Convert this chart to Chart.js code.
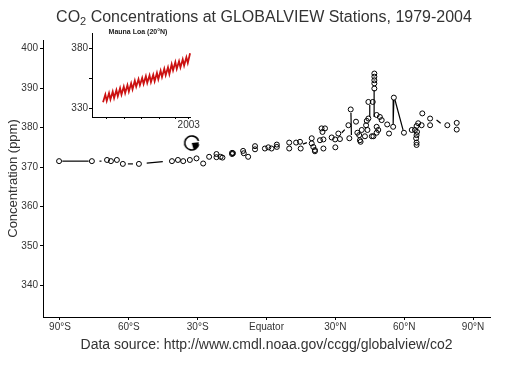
<!DOCTYPE html>
<html>
<head>
<meta charset="utf-8">
<script src="https://cdn.jsdelivr.net/npm/chart.js@4.4.1/dist/chart.umd.min.js"></script>
<style>
  html, body { margin: 0; padding: 0; background: #fff; }
  #wrap { position: relative; width: 512px; height: 366px; }
  #main { position: absolute; left: 0; top: 0; }
  #inset { position: absolute; left: 50px; top: 24px; }
</style>
</head>
<body>
<div id="wrap">
  <canvas id="main" width="512" height="366"></canvas>
  <canvas id="inset" width="150" height="108"></canvas>
</div>
<script>
// station values (latitude in degrees, negative = south; CO2 in ppm)
const stationLat = [
  -90.4, -76.1, -69.5, -67.8, -65.2, -62.6, -55.6, -41.2, -38.6, -36.3,
  -33.4, -30.5, -27.6, -25.0, -21.8, -21.8, -20.0, -19.2, -15.0, -15.0,
  -14.6, -10.2, -9.9, -8.0, -5.0, -5.0, -0.7, 0.8, 2.2, 4.5,
  4.5, 9.9, 9.9, 12.9, 14.6, 14.9, 19.7, 19.7, 20.4, 21.1,
  21.1, 24.0, 24.4, 25.5, 23.3, 24.8, 24.8, 28.4, 29.9, 30.0,
  31.3, 32.0, 36.1, 35.7, 36.7, 39.0, 39.6, 40.4, 40.7, 41.0,
  41.5, 42.9, 43.4, 43.7, 44.4, 44.0, 45.9, 44.4, 46.3, 47.0,
  47.0, 47.0, 47.0, 47.0, 48.0, 49.4, 50.2, 48.0, 48.7, 48.0,
  46.6, 52.6, 53.4, 55.2, 55.5, 59.9, 63.3, 64.7, 65.4, 66.1,
  67.6, 65.6, 65.4, 65.2, 65.4, 65.4, 67.9, 71.3, 71.3, 78.8,
  82.9, 82.9
];
const stationPpm = [
  371.5, 371.5, 371.8, 371.5, 371.8, 370.8, 370.8, 371.5, 371.8, 371.5,
  371.8, 372.2, 370.9, 372.6, 373.3, 372.5, 372.6, 372.4, 373.6, 373.3,
  373.5, 374.1, 373.5, 372.6, 375.3, 374.5, 374.7, 375.0, 374.7, 375.1,
  375.7, 376.2, 374.7, 376.2, 376.4, 374.7, 377.3, 376.0, 375.1, 374.3,
  374.0, 379.8, 378.9, 379.8, 376.8, 377.0, 374.7, 377.5, 377.0, 375.0,
  378.5, 377.1, 377.3, 380.6, 384.6, 381.5, 378.7, 378.1, 376.8, 376.4,
  379.4, 377.8, 380.6, 381.7, 382.3, 379.4, 377.8, 386.5, 386.5, 393.7,
  392.9, 392.0, 391.2, 389.9, 383.2, 382.7, 381.9, 380.2, 379.4, 378.7,
  377.8, 380.8, 378.5, 380.2, 387.6, 378.7, 379.4, 379.4, 380.4, 381.1,
  380.6, 378.9, 378.1, 377.3, 376.2, 375.6, 383.6, 382.3, 380.6, 380.6,
  381.2, 379.5
];
// connecting strokes: [lat1, ppm1, lat2, ppm2]
const segments = [
  [-89.0, 371.5, -77.5, 371.5],
  [-72.8, 371.5, -71.9, 371.5],
  [-60.4, 370.8, -58.2, 370.8],
  [-52.2, 371.0, -45.2, 371.4],
  [15.9, 375.8, 17.6, 376.2],
  [32.8, 378.7, 34.1, 379.5],
  [36.8, 383.7, 37.0, 378.1],
  [45.0, 385.7, 45.0, 382.7],
  [46.9, 389.5, 46.9, 382.7],
  [55.5, 387.0, 55.2, 380.9],
  [56.0, 387.0, 59.5, 379.4],
  [74.1, 381.9, 75.9, 381.1]
];
const markerLat = [-32.6];
const markerPpm = [376.1];

const xTickValues = [-90, -60, -30, 0, 30, 60, 90];
const xTickLabels = ["90°S", "60°S", "30°S", "Equator", "30°N", "60°N", "90°N"];
const yTickValues = [340, 350, 360, 370, 380, 390, 400];

// Mauna Loa inset
const mloYear = [
  1979.75, 1980.37, 1980.75, 1981.37, 1981.75, 1982.37, 1982.75, 1983.37, 1983.75,
  1984.37, 1984.75, 1985.37, 1985.75, 1986.37, 1986.75, 1987.37, 1987.75,
  1988.37, 1988.75, 1989.37, 1989.75, 1990.37, 1990.75, 1991.37, 1991.75,
  1992.37, 1992.75, 1993.37, 1993.75, 1994.37, 1994.75, 1995.37, 1995.75,
  1996.37, 1996.75, 1997.37, 1997.75, 1998.37, 1998.75, 1999.37, 1999.75,
  2000.37, 2000.75, 2001.37, 2001.75, 2002.37, 2002.75, 2003.37
];
const mloPpm = [
  334.8, 341.2, 335.9, 342.4, 337.1, 343.6, 338.3, 345.0, 339.9,
  346.5, 341.2, 347.8, 342.5, 349.1, 343.8, 350.6, 345.6,
  352.7, 347.8, 354.0, 349.0, 355.1, 350.1, 356.5, 351.0,
  357.2, 351.6, 357.7, 352.3, 359.2, 354.0, 361.1, 355.8,
  362.7, 357.4, 363.8, 358.3, 366.5, 361.4, 368.2, 362.6,
  369.0, 363.8, 370.5, 365.4, 372.3, 367.6, 375.6
];
const insetXTicks = [1980.6, 1985.7, 1990.3, 1995.0, 1999.4, 2003];
const insetXLabels = ["", "", "", "", "", "2003"];
const insetYTicks = [330, 355, 380];
const insetYLabels = ["330", "", "380"];

const titleMain = "CO";
const titleSub = "2";
const titleRest = " Concentrations at GLOBALVIEW Stations, 1979-2004";
const insetTitle = "Mauna Loa (20°N)";

const ink = "#000";
const textColor = "#333";
const family = "'Liberation Sans', Arial, Helvetica, sans-serif";

function makeClockMarker() {
  const c = document.createElement("canvas");
  c.width = 18;
  c.height = 18;
  const g = c.getContext("2d");
  g.strokeStyle = ink;
  g.lineWidth = 1.6;
  g.beginPath();
  g.arc(9, 9, 7, 0.2, Math.PI * 2 - 0.3);
  g.stroke();
  g.fillStyle = ink;
  g.beginPath();
  g.moveTo(9, 9);
  g.arc(9, 9, 7, -0.1, 1.3);
  g.closePath();
  g.fill();
  return c;
}

function toPoints(xs, ys) {
  return xs.map((x, i) => ({ x: x, y: ys[i] }));
}

const titlePlugin = {
  id: "co2title",
  afterDraw(chart) {
    const ctx = chart.ctx;
    const big = "16px " + family;
    const small = "11px " + family;
    ctx.save();
    ctx.fillStyle = textColor;
    ctx.textBaseline = "alphabetic";
    ctx.font = big;
    const w1 = ctx.measureText(titleMain).width;
    const w3 = ctx.measureText(titleRest).width;
    ctx.font = small;
    const w2 = ctx.measureText(titleSub).width;
    let x = 264 - (w1 + w2 + w3) / 2;
    const y = 22;
    ctx.font = big;
    ctx.fillText(titleMain, x, y);
    x += w1;
    ctx.font = small;
    ctx.fillText(titleSub, x, y + 3);
    x += w2;
    ctx.font = big;
    ctx.fillText(titleRest, x, y);
    ctx.restore();
  }
};

const segmentSets = segments.map((s) => ({
  data: [{ x: s[0], y: s[1] }, { x: s[2], y: s[3] }],
  showLine: true,
  borderColor: ink,
  borderWidth: 1.2,
  pointRadius: 0
}));

new Chart(document.getElementById("main"), {
  type: "scatter",
  data: {
    datasets: [
      ...segmentSets,
      {
        data: toPoints(stationLat, stationPpm),
        pointStyle: "circle",
        pointRadius: 2.5,
        borderColor: ink,
        borderWidth: 1,
        backgroundColor: "rgba(0,0,0,0)"
      },
      {
        data: toPoints(markerLat, markerPpm),
        pointStyle: makeClockMarker(),
        pointRadius: 9
      }
    ]
  },
  options: {
    responsive: false,
    animation: false,
    layout: { padding: { top: 40, right: 22, bottom: 0, left: 0 } },
    plugins: {
      legend: { display: false },
      tooltip: { enabled: false },
      title: { display: false }
    },
    scales: {
      x: {
        type: "linear",
        min: -97.4,
        max: 97.4,
        afterBuildTicks: (scale) => { scale.ticks = xTickValues.map((v) => ({ value: v })); },
        afterFit: (scale) => { scale.height = 49; },
        ticks: {
          autoSkip: false,
          maxRotation: 0,
          padding: 1,
          color: textColor,
          font: { family: family, size: 10 },
          callback: (v) => xTickLabels[xTickValues.indexOf(v)]
        },
        grid: { drawOnChartArea: false, drawTicks: true, tickLength: 3, color: ink },
        border: { display: true, color: ink, width: 1 },
        title: {
          display: true,
          text: "Data source: http://www.cmdl.noaa.gov/ccgg/globalview/co2",
          color: textColor,
          font: { family: family, size: 14, lineHeight: 1.2 },
          padding: { top: 0, bottom: 12.6 }
        }
      },
      y: {
        min: 332,
        max: 402.2,
        afterBuildTicks: (scale) => { scale.ticks = yTickValues.map((v) => ({ value: v })); },
        afterFit: (scale) => { scale.width = 43; },
        ticks: {
          padding: 2,
          color: textColor,
          font: { family: family, size: 10 }
        },
        grid: { drawOnChartArea: false, drawTicks: true, tickLength: 3, color: ink },
        border: { display: true, color: ink, width: 1 },
        title: {
          display: true,
          text: "Concentration (ppm)",
          color: textColor,
          font: { family: family, size: 13, lineHeight: 1.2 },
          padding: { top: 6, bottom: 0 }
        }
      }
    }
  },
  plugins: [titlePlugin]
});

const insetTitlePlugin = {
  id: "insetTitle",
  afterDraw(chart) {
    const ctx = chart.ctx;
    ctx.save();
    ctx.fillStyle = "#222";
    ctx.font = "bold 7px " + family;
    ctx.textAlign = "center";
    ctx.textBaseline = "alphabetic";
    ctx.fillText(insetTitle, 88, 10);
    ctx.restore();
  }
};

new Chart(document.getElementById("inset"), {
  type: "scatter",
  data: {
    datasets: [{
      data: toPoints(mloYear, mloPpm),
      showLine: true,
      borderColor: "#cc1111",
      borderWidth: 1.8,
      pointRadius: 0,
      tension: 0
    }]
  },
  options: {
    responsive: false,
    animation: false,
    layout: { padding: { top: 9, right: 7, bottom: 0, left: 0 } },
    plugins: {
      legend: { display: false },
      tooltip: { enabled: false },
      title: { display: false }
    },
    scales: {
      x: {
        type: "linear",
        min: 1976.75,
        max: 2003.6,
        afterBuildTicks: (scale) => { scale.ticks = insetXTicks.map((v) => ({ value: v })); },
        afterFit: (scale) => { scale.height = 15; },
        ticks: {
          autoSkip: false,
          maxRotation: 0,
          padding: 0,
          color: textColor,
          font: { family: family, size: 10 },
          callback: (v) => insetXLabels[insetXTicks.indexOf(v)]
        },
        grid: { drawOnChartArea: false, drawTicks: true, tickLength: 2, color: ink },
        border: { display: true, color: ink, width: 1 }
      },
      y: {
        min: 322.5,
        max: 392.5,
        afterBuildTicks: (scale) => { scale.ticks = insetYTicks.map((v) => ({ value: v })); },
        afterFit: (scale) => { scale.width = 42; },
        ticks: {
          padding: 1,
          color: textColor,
          font: { family: family, size: 10 },
          callback: (v) => insetYLabels[insetYTicks.indexOf(v)]
        },
        grid: { drawOnChartArea: false, drawTicks: true, tickLength: 3, color: ink },
        border: { display: true, color: ink, width: 1 }
      }
    }
  },
  plugins: [insetTitlePlugin]
});
</script>
</body>
</html>
